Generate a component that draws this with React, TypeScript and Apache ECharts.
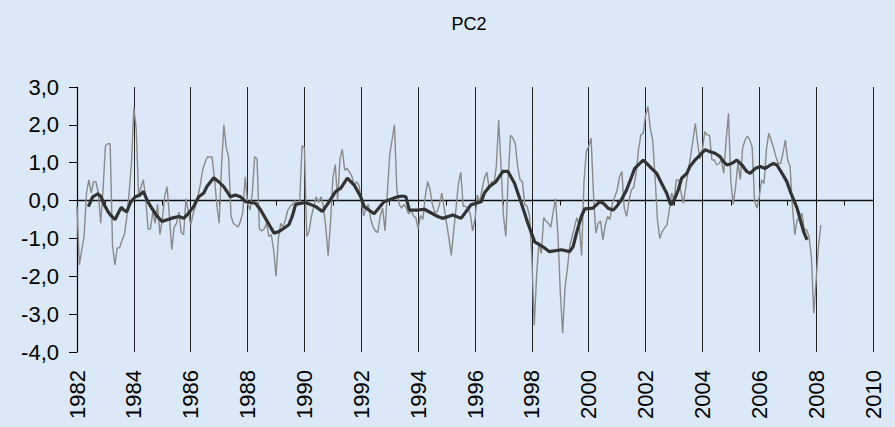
import React, { useEffect, useRef } from "react";
import * as echarts from "echarts";

const TITLE = "PC2";
const START_YEAR = 1982;
const X_MIN = 1982;
const X_MAX = 2010;
const Y_MIN = -4;
const Y_MAX = 3;

// Monthly values (gray line), Jan 1982 onward
const monthly1982 = [-0.15, -1.7, -1.3, -0.95, 0.2, 0.55, 0.2, 0.5, 0.5, 0.2, -0.6, 0.3];
const monthly1983 = [1.45, 1.5, 1.5, -1.2, -1.7, -1.25, -1.25, -1.05, -0.9, -0.45, 0.2, 1.0];
const monthly1984 = [2.45, 1.9, 0.15, 0.35, 0.55, 0.05, -0.75, -0.75, -0.3, -0.6, -0.1, -0.9];
const monthly1985 = [-0.5, 0.1, 0.37, -0.4, -1.3, -0.7, -0.6, -0.3, -0.85, -0.9, 0.05, -0.3];
const monthly1986 = [-0.65, -0.35, -0.15, 0.1, 0.4, 0.8, 1.0, 1.15, 1.15, 1.15, 0.6, -0.1];
const monthly1987 = [-0.6, 0.9, 2.0, 1.4, 1.15, -0.4, -0.6, -0.65, -0.7, -0.55, -0.3, 0.63];
const monthly1988 = [-0.07, -0.25, 0.2, 1.16, 1.1, -0.75, -0.8, -0.75, -0.6, -0.95, -0.9, -1.3];
const monthly1989 = [-2.0, -1.0, -0.6, -0.7, -0.5, -0.25, -0.15, -0.1, 0.0, -0.1, 0.0, 1.45];
const monthly1990 = [1.4, -0.95, -0.8, -0.4, -0.15, 0.1, -0.05, 0.1, -0.15, -0.7, -1.45, -0.6];
const monthly1991 = [0.6, 0.95, 0.0, 1.1, 1.35, 0.8, 0.85, 0.75, 0.65, 0.4, 0.5, 0.4];
const monthly1992 = [0.0, -0.4, -0.2, -0.1, -0.5, -0.7, -0.8, -0.85, -0.4, -0.2, -0.8, 0.2];
const monthly1993 = [1.2, 1.6, 2.0, 0.3, -0.1, -0.2, -0.1, -0.2, -0.35, -0.25, -0.4, -0.45];
const monthly1994 = [-0.75, -0.4, -0.5, 0.1, 0.5, 0.3, -0.1, -0.3, -0.3, -0.1, 0.2, -0.2];
const monthly1995 = [-0.6, -1.0, -1.45, -0.8, -0.2, 0.45, 0.75, -0.15, -0.15, -0.2, -0.35, -0.8];
const monthly1996 = [-0.5, 0.15, -0.05, 0.3, 0.6, 0.75, 0.3, 0.5, 0.45, 0.9, 2.13, 0.9];
const monthly1997 = [-0.4, -0.95, 0.6, 1.73, 1.65, 1.5, 0.9, 0.55, 0.5, -0.1, -0.15, -0.4];
const monthly1998 = [-1.5, -3.3, -2.0, -1.1, -1.4, -0.45, -0.55, -0.6, -0.7, -0.3, 0.05, -0.9];
const monthly1999 = [-2.4, -3.5, -2.3, -1.8, -1.2, -0.95, -0.7, -0.45, -0.65, -1.45, 0.5, 1.3];
const monthly2000 = [1.43, 1.65, 0.2, -0.86, -0.6, -0.55, -1.04, -0.65, -0.42, -0.5, -0.07, 0.1];
const monthly2001 = [0.28, 0.63, 0.77, -0.2, -0.42, 0.0, 0.28, 0.35, 0.72, 1.34, 1.73, 1.78];
const monthly2002 = [2.26, 2.48, 1.9, 1.6, 0.63, -0.5, -1.0, -0.82, -0.73, -0.64, -0.25, 0.2];
const monthly2003 = [0.02, 0.55, 0.55, 0.2, -0.07, 0.37, 0.8, 1.16, 1.6, 2.04, 1.5, 1.1];
const monthly2004 = [1.34, 1.82, 1.73, 1.73, 1.07, 1.07, 0.94, 0.98, 1.07, 0.72, 1.6, 2.3];
const monthly2005 = [0.5, -0.1, 0.37, 1.0, 0.55, 1.4, 1.6, 1.7, 1.6, 1.4, 0.0, -0.2];
const monthly2006 = [0.1, 0.55, 0.45, 1.34, 1.78, 1.6, 1.4, 1.16, 0.98, 0.98, 1.25, 1.6];
const monthly2007 = [1.07, 0.9, -0.16, -0.9, -0.5, -0.5, -0.33, -0.77, -0.77, -0.95, -1.5, -2.98];
const monthly2008 = [-2.1, -1.2, -0.64];

const monthlyValues = [
  ...monthly1982, ...monthly1983, ...monthly1984, ...monthly1985, ...monthly1986,
  ...monthly1987, ...monthly1988, ...monthly1989, ...monthly1990, ...monthly1991,
  ...monthly1992, ...monthly1993, ...monthly1994, ...monthly1995, ...monthly1996,
  ...monthly1997, ...monthly1998, ...monthly1999, ...monthly2000, ...monthly2001,
  ...monthly2002, ...monthly2003, ...monthly2004, ...monthly2005, ...monthly2006,
  ...monthly2007, ...monthly2008,
];

// Smoothed line (dark), read at points along the curve
const smoothYears = [
  1982.40, 1982.55, 1982.73, 1982.85, 1982.95, 1983.1, 1983.2, 1983.34, 1983.47, 1983.56,
  1983.65, 1983.75, 1983.88, 1984.05, 1984.22, 1984.34, 1984.47, 1984.63, 1984.8, 1984.99,
  1985.2, 1985.4, 1985.6, 1985.75, 1985.93, 1986.1, 1986.28, 1986.46, 1986.57, 1986.81,
  1986.98, 1987.16, 1987.4, 1987.57, 1987.75, 1987.93, 1988.1, 1988.28, 1988.46, 1988.69,
  1988.93, 1989.1, 1989.28, 1989.45, 1989.57, 1989.69, 1990.04, 1990.4, 1990.63, 1990.87,
  1991.1, 1991.28, 1991.51, 1991.75, 1991.98, 1992.1, 1992.45, 1992.8, 1993.28, 1993.45,
  1993.57, 1993.69, 1993.98, 1994.22, 1994.69, 1994.86, 1995.22, 1995.51, 1995.86, 1996.22,
  1996.33, 1996.51, 1996.74, 1996.98, 1997.16, 1997.39, 1997.63, 1997.86, 1998.1, 1998.39,
  1998.62, 1999.04, 1999.33, 1999.45, 1999.57, 1999.74, 1999.86, 2000.15, 2000.39, 2000.51,
  2000.68, 2000.86, 2000.98, 2001.15, 2001.33, 2001.51, 2001.62, 2001.8, 2001.92, 2002.04,
  2002.21, 2002.39, 2002.5, 2002.62, 2002.74, 2002.86, 2002.92, 2003.03, 2003.15, 2003.27,
  2003.45, 2003.56, 2003.74, 2003.91, 2004.09, 2004.27, 2004.44, 2004.62, 2004.74, 2004.86,
  2005.03, 2005.21, 2005.39, 2005.56, 2005.68, 2005.86, 2006.03, 2006.21, 2006.39, 2006.5,
  2006.62, 2006.8, 2006.97, 2007.09, 2007.21, 2007.33, 2007.44, 2007.56, 2007.68,
];
const smoothValues = [
  -0.16, 0.1, 0.18, 0.1, -0.1, -0.3, -0.4, -0.5, -0.3, -0.18,
  -0.25, -0.3, -0.05, 0.1, 0.15, 0.24, 0.0, -0.2, -0.4, -0.55,
  -0.5, -0.45, -0.42, -0.47, -0.33, -0.16, 0.1, 0.2, 0.37, 0.6,
  0.5, 0.37, 0.1, 0.15, 0.1, -0.03, -0.05, -0.07, -0.25, -0.55,
  -0.86, -0.82, -0.73, -0.64, -0.42, -0.1, -0.05, -0.16, -0.29, -0.03,
  0.24, 0.33, 0.59, 0.41, 0.1, -0.16, -0.35, -0.03, 0.1, 0.12,
  0.1, -0.25, -0.25, -0.23, -0.42, -0.47, -0.38, -0.47, -0.11, -0.03,
  0.2, 0.37, 0.5, 0.77, 0.77, 0.46, -0.07, -0.6, -1.09, -1.22,
  -1.35, -1.3, -1.35, -1.22, -0.86, -0.42, -0.22, -0.2, -0.03, -0.07,
  -0.2, -0.25, -0.16, 0.02, 0.28, 0.63, 0.85, 0.98, 1.07, 0.98,
  0.85, 0.72, 0.55, 0.37, 0.2, -0.07, -0.11, 0.06, 0.28, 0.59,
  0.72, 0.9, 1.07, 1.2, 1.34, 1.29, 1.25, 1.16, 1.03, 0.94,
  0.98, 1.07, 0.94, 0.77, 0.72, 0.85, 0.9, 0.85, 0.94, 0.98,
  0.94, 0.72, 0.5, 0.24, 0.02, -0.2, -0.5, -0.82, -1.04,
];

const FONT = "'Liberation Sans', Arial, Helvetica, sans-serif";

export default function App() {
  const ref = useRef<HTMLDivElement>(null);

  useEffect(() => {
    document.body.style.margin = "0";
    if (!ref.current) return;
    const chart = echarts.init(ref.current, undefined, { renderer: "svg" });

    const grayData = monthlyValues.map((v, i) => [START_YEAR + i / 12, v]);
    const darkData = smoothYears.map((y, i) => [y, smoothValues[i]]);

    chart.setOption({
      animation: false,
      backgroundColor: "#dae8f7",
      title: {
        text: TITLE,
        left: 464,
        top: 10,
        textAlign: "center",
        textStyle: { fontFamily: FONT, fontSize: 18, fontWeight: "normal", color: "#000" },
      },
      grid: { left: 77, right: 22, top: 87, bottom: 75, containLabel: false },
      xAxis: [
        {
          type: "value",
          min: X_MIN,
          max: X_MAX,
          interval: 2,
          position: "bottom",
          axisLine: { show: false, onZero: false },
          axisTick: { show: false },
          axisLabel: {
            rotate: 90,
            margin: 18,
            fontFamily: FONT,
            fontSize: 22,
            color: "#000",
            formatter: (v: number) => String(v),
          },
          splitLine: { show: true, lineStyle: { color: "#222", width: 1 } },
        },
        {
          type: "value",
          min: X_MIN,
          max: X_MAX,
          interval: 1,
          position: "bottom",
          axisLine: { show: true, onZero: true, lineStyle: { color: "#111", width: 1.3 } },
          axisTick: { show: true, length: 5, lineStyle: { color: "#111", width: 1 } },
          axisLabel: { show: false },
          splitLine: { show: false },
        },
      ],
      yAxis: {
        type: "value",
        min: Y_MIN,
        max: Y_MAX,
        interval: 1,
        axisLine: { show: true, onZero: false, lineStyle: { color: "#000", width: 1.2 } },
        axisTick: { show: true, length: 8, lineStyle: { color: "#000" } },
        axisLabel: {
          margin: 18,
          fontFamily: FONT,
          fontSize: 22,
          color: "#000",
          formatter: (v: number) => v.toFixed(1).replace(".", ","),
        },
        splitLine: { show: false },
      },
      series: [
        {
          type: "line",
          xAxisIndex: 0,
          data: grayData,
          showSymbol: false,
          lineStyle: { color: "#8a8a8a", width: 1.4 },
          z: 2,
        },
        {
          type: "line",
          xAxisIndex: 0,
          data: darkData,
          showSymbol: false,
          lineStyle: { color: "#333333", width: 3.2 },
          z: 3,
        },
      ],
    });

    return () => chart.dispose();
  }, []);

  return (
    <div
      ref={ref}
      style={{ position: "absolute", left: 0, top: 0, width: 895, height: 427 }}
    />
  );
}
